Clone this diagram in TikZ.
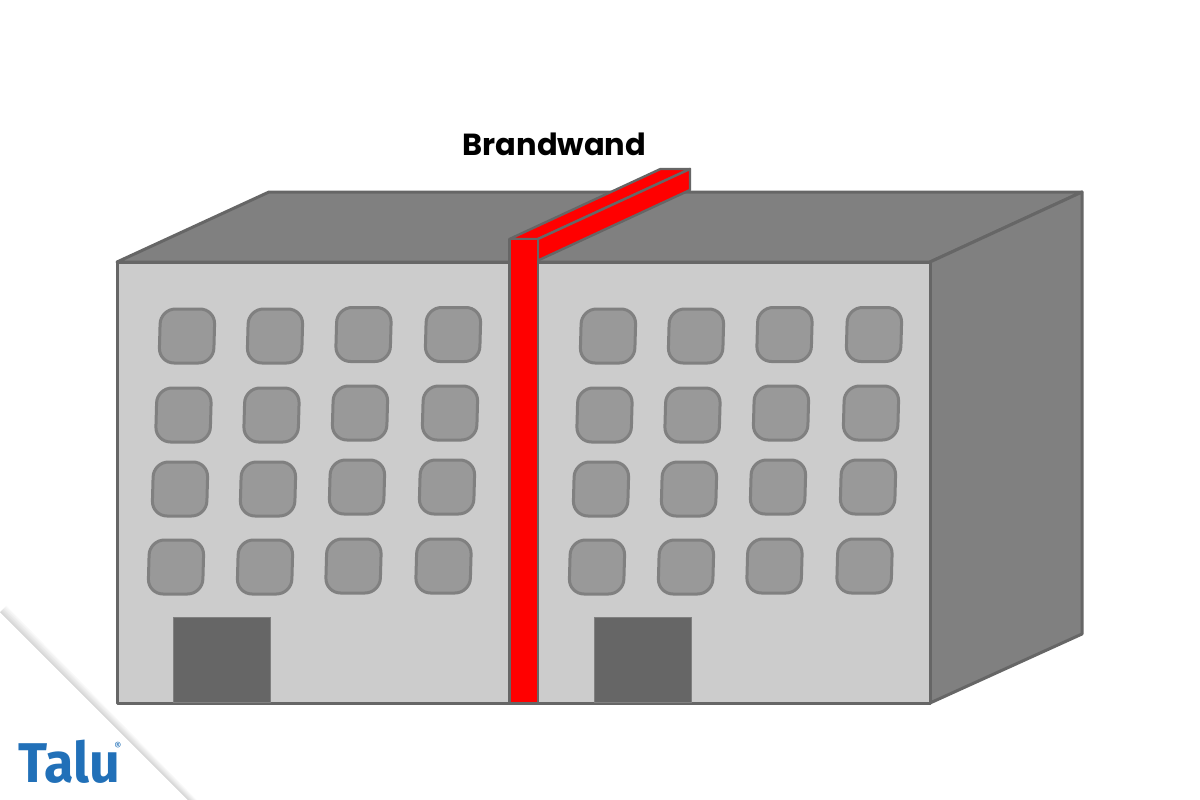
\documentclass[tikz,border=0pt]{standalone}
\usepackage{fontspec}
\setmainfont{Poppins}
\newfontfamily\logofont{Fira Sans}
\definecolor{edgegray}{HTML}{666666}
\definecolor{frontgray}{HTML}{CCCCCC}
\definecolor{roofgray}{HTML}{808080}
\definecolor{wingray}{HTML}{999999}
\definecolor{logoblue}{HTML}{2170B8}
\tikzset{
  wall/.style={draw=edgegray,line width=3pt,line join=round},
  firewall/.style={draw=edgegray,line width=2.4pt,fill=red,line join=round},
  door/.style={fill=edgegray,draw=roofgray,line width=.8pt},
  win/.style={fill=wingray,draw=roofgray,line width=3pt,rounded corners=15pt}
}
\newcommand{\windowat}[2]{%
  \draw[win] ({#1-26.5},{#2-27}) -- ({#1+28},{#2-27}) -- ({#1+26.5},{#2+27}) -- ({#1-28},{#2+27}) -- cycle;}
\begin{document}
\begin{tikzpicture}[x=1pt,y=-1pt]
\useasboundingbox (0,0) rectangle (1200,800);
\fill[white] (0,0) rectangle (1200,800);
% building
\path[wall,fill=roofgray] (117,262) -- (269,192) -- (1082,192) -- (930,262) -- cycle;
\path[wall,fill=roofgray] (930,262) -- (1082,192) -- (1082,634) -- (930,703) -- cycle;
\path[wall,fill=frontgray] (117,262) rectangle (930,703);
% doors
\path[door] (173.5,617) rectangle (270.5,702);
\path[door] (594.5,617) rectangle (691,702);
% windows
\foreach \dx in {0,421}{
  \foreach \cx/\cy in {187/336,275/336,363.5/334.5,453/334.5,
                       183.5/415,271.5/415,360/413,450/413,
                       180/489,268/489,357/487,447/487,
                       176/567,265/567,353.5/566,443.5/566}{
    \windowat{\cx+\dx}{\cy}
  }
}
% fire wall
\path[firewall] (509.5,239) -- (660.5,169) -- (690,169) -- (538,239) -- cycle;
\path[firewall] (538,239) -- (690,169) -- (690,190) -- (538,260.5) -- cycle;
\path[firewall] (509.5,239) rectangle (538,703);
\node[font=\fontsize{30.5}{33}\selectfont\bfseries,text=black,inner sep=0pt] (title) at (554.5,144) {Brandwand};
% corner shadow
\foreach \o in {1,...,8}{
  \fill[black,opacity=.02] (0,612) -- (188,800) -- ({188+\o*1.1},800) -- ({\o*.8},{612-\o*.8}) -- cycle;
}
% logo
\node[font=\logofont\fontsize{56}{60}\selectfont\bfseries,text=logoblue,inner sep=0pt,anchor=base west,xscale=.96] (logo) at (18,782) {Talu};
\node[font=\logofont\fontsize{11}{12}\selectfont,text=logoblue,inner sep=0pt] (reg) at (118,746) {®};
\end{tikzpicture}
\end{document}
